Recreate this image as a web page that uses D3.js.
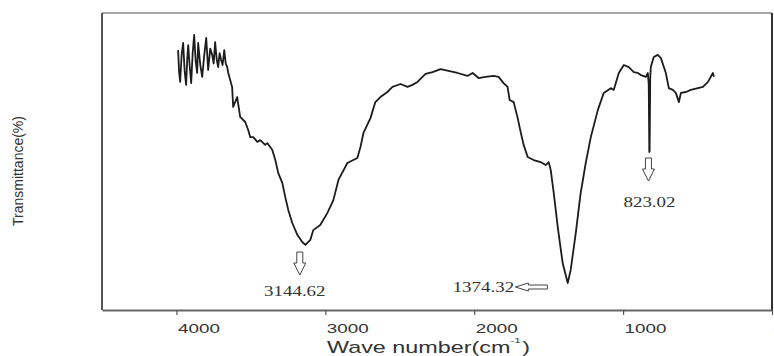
<!DOCTYPE html>
<meta charset="utf-8">
<html>
  <style>
    body { margin: 0; background: #fff; }
    .spectrum {
      fill: none;
      stroke: #1c1c1c;
      stroke-width: 1.8px;
      stroke-linejoin: round;
    }
  </style>
  <head>
    <script src="https://d3js.org/d3.v7.min.js"></script>
  </head>
  <body>
    <script>
      // spectrum (wave number cm-1, transmittance %)
      var wavenumber = [3989, 3982, 3975, 3965, 3955, 3945, 3935, 3928, 3921, 3911, 3901, 3891, 3881, 3871, 3861, 3854, 3840, 3827, 3813,
        3800, 3787, 3773, 3760, 3750, 3740, 3730, 3720, 3710, 3700, 3690, 3679, 3669, 3659, 3652,
        3626, 3619, 3592, 3572, 3538, 3518, 3504, 3484, 3457, 3437, 3404, 3390, 3356, 3336, 3316, 3289, 3269, 3249, 3222, 3188, 3155, 3134,
        3101, 3081, 3034, 2986, 2946, 2912, 2852, 2785, 2764, 2744, 2697, 2664, 2630, 2583, 2549, 2495, 2448, 2415, 2381, 2327, 2280, 2226,
        2173, 2112, 2045, 2011, 1971, 1924, 1870, 1836, 1803, 1776, 1762, 1735, 1708, 1688, 1668, 1641, 1601, 1554, 1520, 1500, 1486, 1466,
        1439, 1406, 1372, 1352, 1318, 1285, 1251, 1217, 1170, 1130, 1083, 1063, 1029, 995, 962, 928, 901, 881, 847, 834, 828, 824, 822, 818,
        814, 794, 767, 746, 713, 693, 666, 646, 625, 612, 578, 545, 498, 464, 430, 397, 390];
      var transmittance = [87.5, 80.0, 76.8, 86.0, 89.9, 80.5, 75.8, 84.0, 89.2, 82.0, 76.4, 86.5, 92.6, 84.0, 79.8, 89.9, 82.5, 78.5, 86.0,
        91.6, 80.8, 88.0, 85.9, 83.0, 90.2, 84.5, 81.8, 86.5, 84.2, 82.5, 87.5, 83.0, 81.8, 79.8,
        75.1, 68.4, 71.7, 65.0, 63.3, 60.6, 58.2, 58.2, 56.6, 57.2, 55.6, 56.2, 53.9, 50.5, 46.1, 42.8, 38.0, 33.7, 29.3, 25.3, 22.9, 21.9,
        23.6, 26.9, 28.6, 32.7, 37.0, 43.8, 49.5, 51.2, 54.9, 59.6, 64.6, 70.0, 71.7, 73.4, 75.1, 76.1, 75.1, 75.8, 76.8, 79.5, 80.1, 81.1,
        80.5, 79.8, 78.8, 79.8, 78.1, 78.5, 78.8, 78.5, 76.4, 75.1, 70.7, 70.0, 64.6, 59.9, 55.6, 51.5, 50.5, 49.8, 48.8, 49.8, 47.1, 39.4,
        27.9, 15.8, 9.1, 13.5, 25.9, 39.4, 49.5, 58.2, 67.3, 73.1, 74.7, 74.1, 79.8, 82.5, 81.8, 80.1, 79.8, 79.1, 78.5, 79.8, 76.0, 53.2, 53.5, 78.0,
        81.8, 85.2, 85.9, 84.8, 79.8, 74.7, 74.1, 73.1, 70.0, 73.1, 73.4, 74.1, 74.7, 75.1, 76.8, 79.8, 78.5];

      var xTicks = [4000, 3000, 2000, 1000, 0];

      // marked peaks
      var peakWave = [3144.62, 1374.32, 823.02];
      var peakText = ["3144.62", "1374.32", "823.02"];
      var peakArrow = ["down", "left", "down"];

      var W = 774, H = 356;
      var margin = {top: 13, right: 2, bottom: 46, left: 102},
          width = W - margin.left - margin.right,
          height = H - margin.top - margin.bottom;

      var svg = d3.select("body").append("svg")
          .attr("width", W)
          .attr("height", H);

      var g = svg.append("g")
          .attr("transform", "translate(" + margin.left + "," + margin.top + ")");

      var x = d3.scaleLinear().domain([4500, 0]).range([0, width]);
      var y = d3.scaleLinear().domain([0, 100]).range([height, 0]);

      var data = wavenumber.map(function(w, i) { return {w: w, t: transmittance[i]}; });

      // frame
      g.append("line").attr("x1", 0).attr("x2", width).attr("y1", 0).attr("y2", 0)
        .attr("stroke", "#888").attr("stroke-width", 1.5);
      g.append("line").attr("x1", width).attr("x2", width).attr("y1", 0).attr("y2", height)
        .attr("stroke", "#333").attr("stroke-width", 2);
      g.append("line").attr("x1", 0).attr("x2", 0).attr("y1", 0).attr("y2", height)
        .attr("stroke", "#555").attr("stroke-width", 2);

      // bottom axis
      var xAxis = g.append("g")
          .attr("transform", "translate(0," + height + ")")
          .call(d3.axisBottom(x).tickValues(xTicks).tickSize(5).tickSizeOuter(0).tickFormat(d3.format("d")));
      xAxis.select(".domain").attr("stroke", "#666").attr("stroke-width", 2);
      xAxis.selectAll(".tick line").attr("stroke", "#555").attr("stroke-width", 1.2);
      xAxis.selectAll(".tick text")
          .attr("y", 0).attr("dy", 0)
          .attr("text-anchor", "start")
          .attr("transform", "translate(1,23) scale(1.45,1)")
          .attr("fill", "#333")
          .style("font-family", "'Liberation Sans', Arial, sans-serif")
          .style("font-size", "13px");

      // spectrum
      var line = d3.line()
          .x(function(d) { return x(d.w); })
          .y(function(d) { return y(d.t); });

      g.append("path").datum(data)
          .attr("class", "spectrum")
          .attr("d", line);

      // peak arrows + labels
      function arrowPath(dir) {
        if (dir == "down") return "M-3,0 L3,0 L3,11 L6,11 L0,23 L-6,11 L-3,11 Z";
        return "M0,0 L13,-4 L13,-2 L32,-2 L32,2 L13,2 L13,4 Z";
      }
      var arrowPos = [[-4, 239], [-52, 274], [-1, 145]];
      var labelPos = [[-9, 283], [-84, 279], [0, 194]];

      peakWave.forEach(function(w, i) {
        var px = x(w);
        g.append("path")
          .attr("d", arrowPath(peakArrow[i]))
          .attr("transform", "translate(" + (px + arrowPos[i][0]) + "," + arrowPos[i][1] + ")")
          .attr("fill", "#fff")
          .attr("stroke", "#444")
          .attr("stroke-width", 1);
        g.append("text")
          .attr("transform", "translate(" + (px + labelPos[i][0]) + "," + labelPos[i][1] + ") scale(1.35,1)")
          .attr("text-anchor", "middle")
          .attr("fill", "#333")
          .style("font-family", "'Liberation Serif', 'Times New Roman', serif")
          .style("font-size", "14px")
          .text(peakText[i]);
      });

      // axis titles
      var title = svg.append("text")
          .attr("transform", "translate(327,353) scale(1.46,1)")
          .attr("fill", "#333")
          .style("font-family", "'Liberation Sans', Arial, sans-serif")
          .style("font-size", "16px");
      title.append("tspan").text("Wave number(cm");
      title.append("tspan").attr("dx", 0).attr("dy", -10).style("font-size", "8px").text("-1");
      title.append("tspan").attr("dx", 1).attr("dy", 10).text(")");

      svg.append("text")
          .attr("transform", "translate(23,171) rotate(-90)")
          .attr("text-anchor", "middle")
          .attr("fill", "#333")
          .style("font-family", "'Liberation Sans', Arial, sans-serif")
          .style("font-size", "14px")
          .text("Transmittance(%)");
    </script>
  </body>
</html>
